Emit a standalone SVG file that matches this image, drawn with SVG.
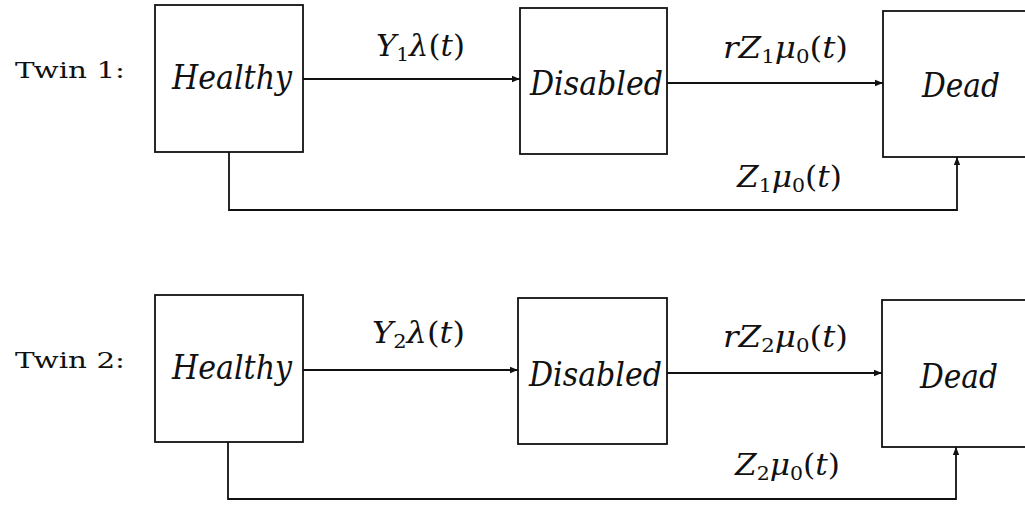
<svg xmlns="http://www.w3.org/2000/svg" width="1025" height="506" viewBox="0 0 1025 506">
  <style>
    .box { fill: #fff; stroke: #111; stroke-width: 1.8; }
    .edge { fill: none; stroke: #111; stroke-width: 1.8; }
    text { font-family: "DejaVu Serif", "Liberation Serif", serif; fill: #111; }
    .state { font-style: italic; font-size: 33px; }
    .twin { font-size: 23px; }
    .rate { font-size: 29px; }
    .it { font-style: italic; }
    .sub { font-size: 19px; }
  </style>
  <defs>
    <marker id="arrow" viewBox="0 0 10 10" refX="10" refY="5" markerWidth="8" markerHeight="8" markerUnits="userSpaceOnUse" orient="auto">
      <path d="M0,1 L10,5 L0,9 Z" fill="#111"/>
    </marker>
  </defs>

  <!-- row labels -->
  <text class="twin" x="15" y="78" textLength="110" lengthAdjust="spacingAndGlyphs">Twin 1:</text>
  <text class="twin" x="15" y="368" textLength="110" lengthAdjust="spacingAndGlyphs">Twin 2:</text>

  <!-- twin 1 states -->
  <g id="healthy1">
    <rect class="box" x="155" y="5" width="148" height="147"/>
    <text class="state" x="172" y="89" textLength="120" lengthAdjust="spacingAndGlyphs">Healthy</text>
  </g>
  <g id="disabled1">
    <rect class="box" x="520" y="8" width="147" height="146"/>
    <text class="state" x="530" y="95" textLength="133" lengthAdjust="spacingAndGlyphs">Disabled</text>
  </g>
  <g id="dead1">
    <rect class="box" x="883" y="11" width="160" height="146"/>
    <text class="state" x="922" y="97" textLength="78" lengthAdjust="spacingAndGlyphs">Dead</text>
  </g>

  <!-- twin 2 states -->
  <g id="healthy2">
    <rect class="box" x="155" y="295" width="148" height="147"/>
    <text class="state" x="172" y="379" textLength="120" lengthAdjust="spacingAndGlyphs">Healthy</text>
  </g>
  <g id="disabled2">
    <rect class="box" x="518" y="298" width="149" height="146"/>
    <text class="state" x="529" y="386" textLength="133" lengthAdjust="spacingAndGlyphs">Disabled</text>
  </g>
  <g id="dead2">
    <rect class="box" x="882" y="300" width="160" height="147"/>
    <text class="state" x="920" y="388" textLength="78" lengthAdjust="spacingAndGlyphs">Dead</text>
  </g>

  <!-- transitions -->
  <g id="connectors">
    <line class="edge" x1="303" y1="79" x2="520" y2="79" marker-end="url(#arrow)"/>
    <line class="edge" x1="667" y1="83" x2="883" y2="83" marker-end="url(#arrow)"/>
    <polyline class="edge" points="229,152 229,210 957,210 957,157" marker-end="url(#arrow)"/>

    <line class="edge" x1="303" y1="370" x2="518" y2="370" marker-end="url(#arrow)"/>
    <line class="edge" x1="667" y1="373" x2="882" y2="373" marker-end="url(#arrow)"/>
    <polyline class="edge" points="228,442 228,499 956,499 956,447" marker-end="url(#arrow)"/>

    <!-- rate labels -->
    <text class="rate" x="376" y="56" textLength="89" lengthAdjust="spacingAndGlyphs"><tspan class="it">Y</tspan><tspan class="sub" dy="5">1</tspan><tspan class="it" dy="-5">λ</tspan>(<tspan class="it">t</tspan>)</text>
    <text class="rate" x="723" y="58" textLength="125" lengthAdjust="spacingAndGlyphs"><tspan class="it">rZ</tspan><tspan class="sub" dy="5">1</tspan><tspan class="it" dy="-5">μ</tspan><tspan class="sub" dy="5">0</tspan><tspan dy="-5">(</tspan><tspan class="it">t</tspan>)</text>
    <text class="rate" x="737" y="187" textLength="105" lengthAdjust="spacingAndGlyphs"><tspan class="it">Z</tspan><tspan class="sub" dy="5">1</tspan><tspan class="it" dy="-5">μ</tspan><tspan class="sub" dy="5">0</tspan><tspan dy="-5">(</tspan><tspan class="it">t</tspan>)</text>

    <text class="rate" x="372" y="343" textLength="93" lengthAdjust="spacingAndGlyphs"><tspan class="it">Y</tspan><tspan class="sub" dy="5">2</tspan><tspan class="it" dy="-5">λ</tspan>(<tspan class="it">t</tspan>)</text>
    <text class="rate" x="723" y="347" textLength="125" lengthAdjust="spacingAndGlyphs"><tspan class="it">rZ</tspan><tspan class="sub" dy="5">2</tspan><tspan class="it" dy="-5">μ</tspan><tspan class="sub" dy="5">0</tspan><tspan dy="-5">(</tspan><tspan class="it">t</tspan>)</text>
    <text class="rate" x="735" y="475" textLength="105" lengthAdjust="spacingAndGlyphs"><tspan class="it">Z</tspan><tspan class="sub" dy="5">2</tspan><tspan class="it" dy="-5">μ</tspan><tspan class="sub" dy="5">0</tspan><tspan dy="-5">(</tspan><tspan class="it">t</tspan>)</text>
  </g>
</svg>
